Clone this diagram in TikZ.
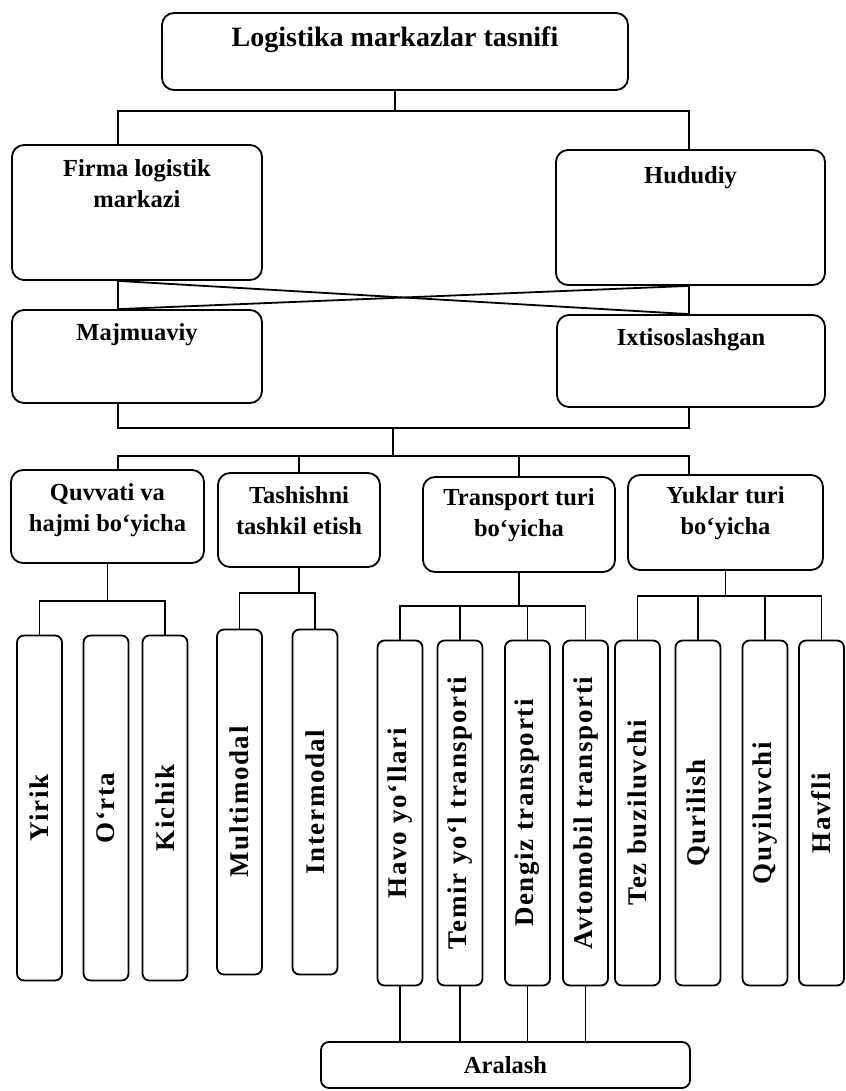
\documentclass[tikz,border=0pt]{standalone}
\usepackage{fontspec}
\usepackage{graphicx}
\setmainfont{Liberation Serif}
\newfontfamily\vertfont{Liberation Serif}[LetterSpace=6]
\usetikzlibrary{positioning}

\tikzset{
  box/.style={draw, line width=0.9pt, rounded corners=6pt, inner sep=0pt},
  txt/.style={font=\bfseries\fontsize{12.25}{15.5}\selectfont, align=center, inner sep=0pt},
  titletxt/.style={font=\bfseries\fontsize{14}{17}\selectfont, inner sep=0pt},
  leaf/.style={draw, line width=0.9pt, rounded corners=3.5pt, inner sep=0pt,
    minimum width=22.5pt, minimum height=172.5pt,
    font=\vertfont\bfseries\fontsize{13.5}{15}\selectfont},
  link/.style={line width=0.9pt}
}

\begin{document}
\begin{tikzpicture}[x=0.5pt, y=-0.5pt]
    \useasboundingbox (0,0) rectangle (845,1091);

    % columns and junctions of the connectors
    \coordinate (cl) at (118,0);
    \coordinate (cr) at (689,0);
    \coordinate (j1) at (393,428);
    \coordinate (j2) at (393,456);

    % top level
    \node[box, minimum width=233pt, minimum height=38.5pt] (top) at (395,51.5) {};
    \node[titletxt, below=7pt of top.north] (topt) {Logistika markazlar tasnifi};

    \node[box, minimum width=125pt, minimum height=67.5pt] (firma) at (137,212.5) {};
    \node[txt, below=7.5pt of firma.north] (firmat) {Firma logistik\\markazi};
    \node[box, minimum width=134.5pt, minimum height=67.5pt] (hudud) at (690.5,217.5) {};
    \node[txt, below=8.5pt of hudud.north] (hududt) {Hududiy};

    \node[box, minimum width=125pt, minimum height=46.5pt] (majm) at (137,356.5) {};
    \node[txt, below=7pt of majm.north] (majmt) {Majmuaviy};
    \node[box, minimum width=134pt, minimum height=46pt] (ixtis) at (691,361) {};
    \node[txt, below=7pt of ixtis.north] (ixtist) {Ixtisoslashgan};

    % criteria
    \node[box, minimum width=96.5pt, minimum height=46.5pt] (quvv) at (107.5,516.5) {};
    \node[txt, below=7pt of quvv.north] (quvvt) {Quvvati va\\hajmi bo‘yicha};
    \node[box, minimum width=81pt, minimum height=47pt] (tash) at (299,520) {};
    \node[txt, below=7pt of tash.north] (tasht) {Tashishni\\tashkil etish};
    \node[box, minimum width=96pt, minimum height=47.5pt] (trans) at (519,524.5) {};
    \node[txt, below=6pt of trans.north] (transt) {Transport turi\\bo‘yicha};
    \node[box, minimum width=97.5pt, minimum height=47.5pt] (yukl) at (725.5,522.5) {};
    \node[txt, below=6pt of yukl.north] (yuklt) {Yuklar turi\\bo‘yicha};

    % vertical leaves
    \foreach \n/\x/\y/\t in {yirik/39.5/808/Yirik, orta/106/808/O‘rta, kichik/165/808/Kichik,
        multi/239.5/802/Multimodal, inter/315/802/Intermodal,
        havo/400/813/Havo yo‘llari, temir/460/813/Temir yo‘l transporti,
        dengiz/527.5/813/Dengiz transporti, avto/585.5/813/Avtomobil transporti,
        tez/637.5/813/Tez buziluvchi, quril/698/813/Qurilish,
        quyil/765/813/Quyiluvchi, havfli/821.5/813/Havfli}
      \node[leaf] (\n) at (\x,\y) {\rotatebox{90}{\t}};

    \node[box, txt, rounded corners=4pt, minimum width=184.5pt, minimum height=23pt] (aral) at (505.5,1065) {Aralash};

    % connectors
    \draw[link] (top.south) -- ++(0,20) coordinate (j0);
    \draw[link] (firma.north -| cl) |- (j0) -| (hudud.north -| cr);

    \draw[link] (firma.south -| cl) -- (majm.north -| cl);
    \draw[link] (hudud.south -| cr) -- (ixtis.north -| cr);
    \draw[link] (firma.south -| cl) -- (ixtis.north -| cr);
    \draw[link] (hudud.south -| cr) -- (majm.north -| cl);

    \draw[link] (majm.south -| cl) |- (j1) -| (ixtis.south -| cr);
    \draw[link] (j1) -- (j2);
    \draw[link] (quvv.north -| cl) |- (j2) -| (yukl.north -| cr);
    \draw[link] (tash.north) -- (tash.north |- j2);
    \draw[link] (trans.north) -- (trans.north |- j2);

    \draw[link] (quvv.south) -- ++(0,37) coordinate (bq);
    \draw[link] (yirik.north) |- (bq) -| (kichik.north);
    \draw[link] (tash.south) -- ++(0,25) coordinate (bs);
    \draw[link] (multi.north) |- (bs) -| (inter.north);
    \draw[link] (trans.south) -- ++(0,33) coordinate (bt);
    \draw[link] (havo.north) |- (bt) -| (avto.north);
    \foreach \n in {temir,dengiz}
      \draw[link] (\n.north) -- (\n.north |- bt);
    \draw[link] (yukl.south) -- ++(0,25) coordinate (by);
    \draw[link] (tez.north) |- (by) -| (havfli.north);
    \foreach \n in {quril,quyil}
      \draw[link] (\n.north) -- (\n.north |- by);

    \foreach \n in {havo,temir,dengiz,avto}
      \draw[link] (\n.south) -- (\n.south |- aral.north);
\end{tikzpicture}
\end{document}
